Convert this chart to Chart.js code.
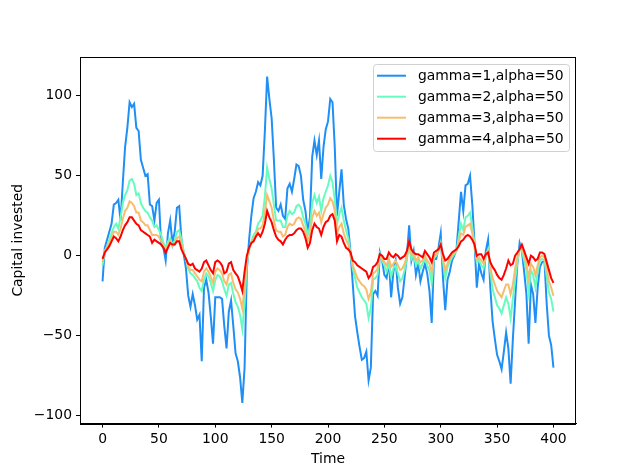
<!DOCTYPE html>
<html>
<head>
<meta charset="utf-8">
<script src="https://cdn.jsdelivr.net/npm/chart.js@4.4.0/dist/chart.umd.min.js"></script>
<style>
  html, body { margin: 0; padding: 0; background: #fff; }
  #wrap { width: 640px; height: 476px; }
</style>
</head>
<body>
<div id="wrap"><canvas id="chart"></canvas></div>
<script>
/* ── Data ───────────────────────────────────────────────── */
const times = Array.from({ length: 201 }, (_, i) => i * 2);

const gamma1 = [
  -16, 5, 10, 15, 20, 32, 33, 35, 22, 46,
  68, 80, 96, 93, 95, 80, 78, 60, 55, 50,
  51, 32, 31, 22, 33, 35, 7, 5, -3, 14,
  22, 8, 15, 30, 31, 10, 1, -8, -25, -32,
  -24, -31, -40, -37, -66, -20, -15, -23, -38, -55,
  -26, -26, -26, -27, -44, -58, -35, -28, -44, -61,
  -66, -76, -92, -70, -9, 10, 25, 36, 40, 46,
  44, 50, 78, 112, 98, 86, 60, 30, 28, 32,
  25, 23, 42, 45, 40, 48, 57, 56, 50, 35,
  28, 15, 24, 62, 72, 63, 72, 48, 68, 79,
  84, 98, 96, 68, 25, 40, 54, 32, 23, 17,
  2, -18, -38, -48, -57, -65, -64, -60, -78, -70,
  -24, -22, -25, 2, -3, -12, -14, -3, -26, -10,
  -3, -20, -30, -26, -13, 0, 19, -3, 3, -12,
  -5, -16, -10, -5, -11, -22, -42, -2, -2, 5,
  14, -14, -34, -15, -10, -3, 0, 4, 22, 40,
  28, 44, 45, 50, 32, 8, -20, -5, -11, -15,
  3, 10, -20, -41, -52, -62, -66, -71, -60, -48,
  -58, -80, -52, -28, -5, 8, 3, -10, -24, -55,
  -18, -24, -42, -20, -7, -4, -3, -30, -50, -56,
  -70
];

const gamma2 = [
  -6, 3, 6, 10, 14, 18, 20, 17, 24, 33,
  38, 41, 47, 48, 45, 38, 39, 33, 30, 28,
  27, 24, 22, 18, 19, 16, 13, 8, 5, 9,
  11, 7, 9, 15, 16, 10, 3, -2, -8, -11,
  -12, -14, -16, -20, -22, -15, -11, -13, -17, -22,
  -15, -12, -13, -16, -21, -25, -18, -17, -24, -29,
  -32, -37, -46, -30, -5, 3, 9, 13, 15, 20,
  22, 25, 37, 55, 48, 42, 32, 22, 22, 22,
  18, 18, 25, 28, 26, 27, 31, 32, 30, 24,
  20, 13, 18, 33, 38, 33, 37, 28, 36, 40,
  44, 50, 46, 35, 20, 26, 30, 22, 16, 11,
  1, -8, -14, -20, -23, -26, -28, -30, -39, -33,
  -15, -14, -12, 1, -3, -6, -10, -5, -13, -8,
  -6, -11, -16, -14, -9, -2, 7, -2, 1, -6,
  -3, -8, -5, -2, -6, -9, -17, -1, 0, 3,
  8, -4, -14, -7, -4, -1, 1, 3, 12, 20,
  16, 24, 25, 27, 18, 7, -4, -3, -6, -8,
  0, 4, -10, -21, -26, -31, -33, -36, -31, -26,
  -30, -39, -27, -15, -4, 4, 3, -3, -9, -23,
  -9, -12, -20, -10, -3, -2, -3, -13, -23, -27,
  -35
];

const gamma3 = [
  -4, 3, 5, 8, 11, 15, 15, 13, 17, 23,
  28, 30, 34, 33, 31, 27, 27, 22, 21, 19,
  19, 16, 13, 13, 13, 12, 9, 6, 3, 7,
  9, 6, 7, 11, 12, 7, 2, -2, -7, -9,
  -9, -11, -13, -15, -16, -10, -8, -10, -13, -17,
  -10, -8, -9, -11, -16, -18, -12, -11, -17, -21,
  -23, -27, -33, -20, -3, 4, 8, 11, 13, 17,
  17, 19, 27, 38, 34, 30, 22, 16, 15, 15,
  12, 13, 18, 20, 19, 20, 23, 24, 23, 19,
  15, 9, 13, 24, 28, 25, 27, 21, 26, 30,
  32, 36, 34, 28, 14, 18, 20, 14, 10, 7,
  1, -6, -10, -14, -16, -18, -19, -21, -27, -23,
  -11, -10, -8, 1, -2, -4, -6, -2, -7, -5,
  -3, -6, -9, -8, -5, 0, 8, 1, 1, -3,
  -1, -4, -3, 0, -3, -5, -10, 0, 1, 3,
  7, -2, -9, -5, -2, 0, 2, 3, 9, 14,
  13, 18, 19, 20, 14, 7, -2, -1, -3, -5,
  1, 3, -7, -14, -18, -22, -24, -26, -22, -18,
  -18, -24, -18, -8, -1, 4, 5, 0, -5, -14,
  -5, -7, -12, -6, -1, 0, -1, -8, -16, -20,
  -25
];

const gamma4 = [
  -2, 2, 4, 6, 9, 12, 11, 9, 12, 16,
  19, 21, 24, 24, 22, 20, 19, 16, 15, 14,
  13, 12, 8, 10, 9, 8, 7, 5, 2, 5,
  8, 7, 7, 9, 9, 4, 1, -2, -5, -6,
  -5, -8, -9, -10, -8, -4, -3, -6, -9, -11,
  -4, -3, -4, -6, -11, -10, -5, -4, -9, -11,
  -13, -17, -22, -10, 0, 5, 8, 9, 12, 14,
  12, 15, 20, 28, 24, 21, 16, 12, 10, 9,
  7, 10, 12, 13, 13, 14, 16, 17, 17, 15,
  11, 5, 8, 16, 20, 18, 17, 13, 18, 21,
  22, 25, 26, 22, 9, 13, 12, 8, 5, 4,
  2, -3, -4, -6, -7, -8, -9, -10, -14, -12,
  -7, -6, -4, 1, 0, -2, -2, 2, 0, -1,
  1, 0, -2, -1, 0, 3, 9, 4, 2, 1,
  1, 0, -1, 3, 1, -1, -4, 2, 3, 4,
  7, 1, -3, -2, 0, 2, 3, 4, 6, 9,
  10, 12, 13, 12, 10, 7, 0, 1, 1, -2,
  1, 2, -4, -7, -9, -12, -14, -15, -12, -8,
  -3, -6, -5, 0, 2, 4, 7, 3, -1, -5,
  0, -1, -3, -2, 2, 2, 1, -4, -9, -14,
  -17
];

const seriesLabels = ['gamma=1,alpha=50', 'gamma=2,alpha=50', 'gamma=3,alpha=50', 'gamma=4,alpha=50'];
const xTicks = [0, 50, 100, 150, 200, 250, 300, 350, 400];
const yTicks = [-100, -50, 0, 50, 100];

/* ── Styling ────────────────────────────────────────────── */
const colors = ['#1f8ff5', '#66fcc0', '#f6bd6e', '#ff0000'];
const font   = { family: 'DejaVu Sans', size: 13.9 };
const toPts  = vals => vals.map((v, i) => ({ x: times[i], y: v }));
const minus  = v => String(v).replace('-', '\u2212');

// frame around the axes + legend box drawn like matplotlib's
const framePlugin = {
  id: 'frame',
  afterDatasetsDraw(chart) {
    const { ctx, chartArea: a } = chart;
    ctx.save();
    ctx.strokeStyle = '#000';
    ctx.lineWidth = 1;
    ctx.strokeRect(Math.round(a.left) + 0.5, Math.round(a.top) + 0.5,
                   Math.round(a.right - a.left) - 1, Math.round(a.bottom - a.top));

    // legend
    const bx = 373.5, by = 64.5, bw = 196, bh = 87, r = 3;
    ctx.beginPath();
    ctx.moveTo(bx + r, by);
    ctx.arcTo(bx + bw, by, bx + bw, by + bh, r);
    ctx.arcTo(bx + bw, by + bh, bx, by + bh, r);
    ctx.arcTo(bx, by + bh, bx, by, r);
    ctx.arcTo(bx, by, bx + bw, by, r);
    ctx.closePath();
    ctx.fillStyle = 'rgba(255,255,255,0.8)';
    ctx.fill();
    ctx.strokeStyle = '#d0d0d0';
    ctx.stroke();

    ctx.font = `${font.size}px ${font.family}`;
    ctx.textBaseline = 'middle';
    ctx.textAlign = 'left';
    chart.data.datasets.forEach((ds, i) => {
      const y = 75.7 + i * 21;
      ctx.strokeStyle = ds.borderColor;
      ctx.lineWidth = 2;
      ctx.beginPath();
      ctx.moveTo(377, y);
      ctx.lineTo(406, y);
      ctx.stroke();
      ctx.fillStyle = '#000';
      ctx.fillText(ds.label, 418, y + 1);
    });
    ctx.restore();
  }
};

new Chart(document.getElementById('chart'), {
  type: 'line',
  data: {
    datasets: [gamma1, gamma2, gamma3, gamma4].map((vals, i) => ({
      label: seriesLabels[i],
      data: toPts(vals),
      borderColor: colors[i],
      borderWidth: 2,
      pointRadius: 0,
      tension: 0,
      fill: false,
      order: 4 - i
    }))
  },
  options: {
    responsive: true,
    maintainAspectRatio: false,
    animation: false,
    layout: { padding: { left: 0, top: 57, right: 64, bottom: 0 } },
    plugins: { legend: { display: false }, tooltip: { enabled: false } },
    scales: {
      x: {
        type: 'linear',
        min: -20, max: 420,
        afterFit: s => { s.height = 52.4; },
        afterBuildTicks: s => { s.ticks = xTicks.map(v => ({ value: v })); },
        grid: { drawOnChartArea: false, color: '#000', tickLength: 4 },
        border: { color: '#000' },
        ticks: { color: '#000', font, padding: 3, maxRotation: 0, callback: v => minus(v) },
        title: { display: true, text: 'Time', color: '#000', font, padding: { top: 0, bottom: 8.6 } }
      },
      y: {
        min: -105, max: 124.3,
        afterFit: s => { s.width = 80; },
        afterBuildTicks: s => { s.ticks = yTicks.map(v => ({ value: v })); },
        grid: { drawOnChartArea: false, color: '#000', tickLength: 4 },
        border: { color: '#000' },
        ticks: { color: '#000', font, padding: 4, callback: v => minus(v) },
        title: { display: true, text: 'Capital invested', color: '#000', font, padding: { top: 9.6, bottom: 0 } }
      }
    }
  },
  plugins: [framePlugin]
});
</script>
</body>
</html>
